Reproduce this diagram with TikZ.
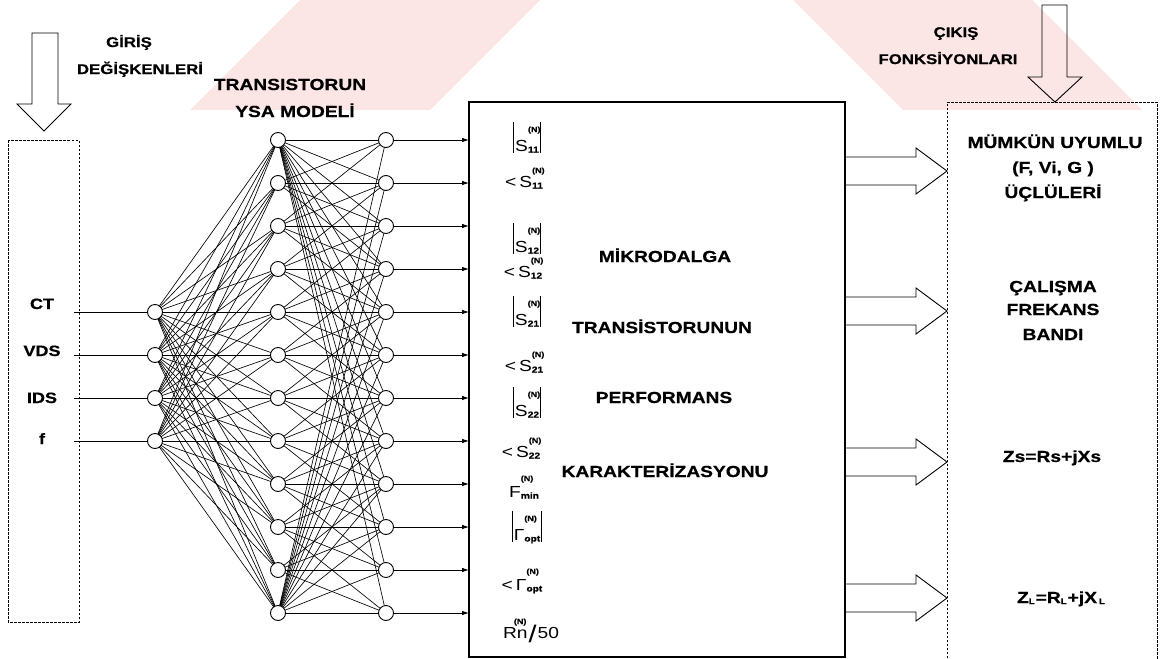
\documentclass[tikz,border=0pt]{standalone}
\usepackage{fontspec}
\setmainfont{Liberation Sans}
\newfontfamily\wf[FakeStretch=1.2,BoldFeatures={FakeBold=0.6}]{Liberation Sans}
\usetikzlibrary{arrows.meta}
\definecolor{wmpink}{RGB}{252,229,229}
\newcommand{\vb}{\vrule height 29pt depth 1.5pt width 0.8pt}
\newcommand{\sx}[2]{\rlap{\raisebox{#1}{\bfseries\fontsize{7.5}{7.5}\selectfont(N)}}\raisebox{-1.5pt}{\bfseries\fontsize{8.5}{8.5}\selectfont #2}}
\begin{document}
\begin{tikzpicture}[x=1pt,y=-1pt,
  neuron/.style={circle,draw,line width=0.9pt,fill=white,minimum size=15pt,inner sep=0pt,outer sep=0pt},
  link/.style={line width=0.65pt},
  outarr/.style={line width=0.8pt,-{Latex[length=7pt,width=4.5pt]}},
  dbox/.style={line width=0.8pt,dash pattern=on 2.5pt off 1.5pt},
  harrow/.style={line width=0.9pt,line join=miter},
  big/.style={font=\wf\bfseries\fontsize{16}{19}\selectfont,inner sep=0pt,anchor=base},
  smallt/.style={font=\wf\bfseries\fontsize{14}{17}\selectfont,inner sep=0pt,anchor=base},
  inl/.style={font=\wf\bfseries\fontsize{15}{18}\selectfont,inner sep=0pt,anchor=base},
  sym/.style={font=\wf\fontsize{16}{19}\selectfont,inner sep=0pt,anchor=base}]
\useasboundingbox (0,0) rectangle (1160,659);
% watermark
\fill[wmpink] (300,0) -- (540,0) -- (430,110) -- (190,110) -- cycle;
\fill[wmpink] (793,0) -- (1032,0) -- (1142,110) -- (903,110) -- cycle;

% neurons
\foreach \k/\yy in {1/312,2/355,3/398,4/441}{
  \node[neuron] (in\k) at (155,\yy) {};
  \coordinate (s\k) at (74,\yy);
}
\foreach \k in {1,...,12}{
  \pgfmathsetmacro\yy{140+43*(\k-1)}
  \node[neuron] (h\k) at (278,\yy) {};
  \node[neuron] (o\k) at (386,\yy) {};
}
% main box
\node[draw,line width=1.1pt,minimum width=376pt,minimum height=555pt,inner sep=0pt,outer sep=0pt] (box) at (657,379.5) {};

% links
\foreach \k in {1,...,4}{\draw[link] (s\k) -- (in\k);}
\foreach \a in {1,...,4}{\foreach \b in {1,...,12}{\draw[link] (in\a) -- (h\b);}}
\foreach \b in {1,...,12}{\foreach \c in {1,...,12}{
  \pgfmathtruncatemacro\ok{or(or(\b==1,\b==12),abs(\b-\c)<3)}
  \ifnum\ok=1 \draw[link] (h\b) -- (o\c);\fi
}}
\foreach \k in {1,...,12}{\draw[outarr] (o\k) -- (o\k -| box.west);}

% dashed boxes
\draw[dbox] (8,140) rectangle (79,622);
\draw[dbox] (947,662) -- (947,102) -- (1157,102) -- (1157,662);

% big down arrows
\draw[harrow] (32,33) -- (58,33) -- (58,104) -- (71,104) -- (44,131) -- (17,104) -- (32,104) -- cycle;
\draw[harrow] (1042,5) -- (1067,5) -- (1067,77) -- (1082,77) -- (1055,102) -- (1028,77) -- (1042,77) -- cycle;

% hollow right arrows
\foreach \c in {171,311,462,598}{
  \draw[harrow] (845,{\c-14}) -- (916,{\c-14}) -- (916,{\c-23}) -- (947,\c) -- (916,{\c+23}) -- (916,{\c+14}) -- (845,{\c+14});
}

% titles
\node[smallt] (t1) at (129,47) {GİRİŞ};
\node[smallt] (t2) at (140,74) {DEĞİŞKENLERİ};
\node[big] (t3) at (290,90) {TRANSISTORUN};
\node[big] (t4) at (295,117) {YSA MODELİ};
\node[smallt] (t5) at (956,37) {ÇIKIŞ};
\node[smallt] (t6) at (948,64) {FONKSİYONLARI};

% inputs
\node[inl] (c1) at (42,309) {CT};
\node[inl] (c2) at (42,356) {VDS};
\node[inl] (c3) at (42,403) {IDS};
\node[inl] (c4) at (42,444) {f};

% main box text
\node[big] (m1) at (665,262) {MİKRODALGA};
\node[big] (m2) at (662,333) {TRANSİSTORUNUN};
\node[big] (m3) at (664,403) {PERFORMANS};
\node[big] (m4) at (665,477) {KARAKTERİZASYONU};

% parameter labels
\node[sym] (p1) at (527,151) {\vb\kern1pt S\sx{19pt}{11}\kern1pt\vb};
\node[sym] (p2) at (524,187) {<\kern3pt S\sx{14pt}{11}};
\node[sym] (p3) at (527,252) {\vb\kern1pt S\sx{19pt}{12}\kern1pt\vb};
\node[sym] (p4) at (523,277) {<\kern3pt S\sx{14pt}{12}};
\node[sym] (p5) at (527,325) {\vb\kern1pt S\sx{19pt}{21}\kern1pt\vb};
\node[sym] (p6) at (524,371) {<\kern3pt S\sx{14pt}{21}};
\node[sym] (p7) at (527,416) {\vb\kern1pt S\sx{19pt}{22}\kern1pt\vb};
\node[sym] (p8) at (521,457) {<\kern3pt S\sx{14pt}{22}};
\node[sym] (p9) at (524,497) {F\sx{16pt}{min}};
\node[sym] (p10) at (527,540) {\vb\kern1pt Γ\sx{19pt}{opt}\kern1pt\vb};
\node[sym] (p11) at (522,590) {<\kern3pt Γ\sx{16pt}{opt}};
\node[sym] (p12) at (531,638) {R\rlap{\kern-3pt\raisebox{14pt}{\bfseries\fontsize{7.5}{7.5}\selectfont(N)}}n\kern1pt\raisebox{-4pt}{\fontsize{24}{24}\selectfont /}\kern1pt 50};

% output texts
\node[big] (r1) at (1055,148) {MÜMKÜN UYUMLU};
\node[big] (r2) at (1053,173) {(F, Vi, G )};
\node[big] (r3) at (1053,198) {ÜÇLÜLERİ};
\node[big] (r4) at (1053,292) {ÇALIŞMA};
\node[big] (r5) at (1053,315) {FREKANS};
\node[big] (r6) at (1053,340) {BANDI};
\node[big] (r7) at (1052,462) {Zs=Rs+jXs};
\node[big] (r8) at (1061,603) {Z\raisebox{-1pt}{\fontsize{8}{8}\selectfont L}\kern1pt=R\raisebox{-1pt}{\fontsize{8}{8}\selectfont L}\kern1pt+jX\kern2pt\raisebox{-1pt}{\fontsize{8}{8}\selectfont L}};
\end{tikzpicture}
\end{document}
